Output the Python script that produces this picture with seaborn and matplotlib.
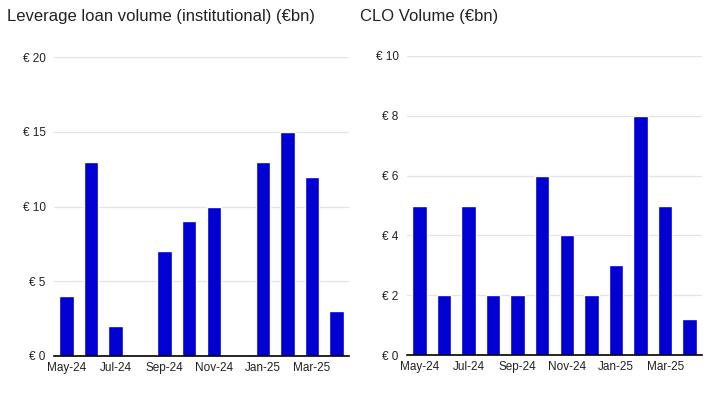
import matplotlib
matplotlib.use("Agg")
import matplotlib.pyplot as plt
import seaborn as sns
import pandas as pd

months = ["May-24", "Jun-24", "Jul-24", "Aug-24", "Sep-24", "Oct-24",
          "Nov-24", "Dec-24", "Jan-25", "Feb-25", "Mar-25", "Apr-25"]
loan_volume = [4, 13, 2, 0, 7, 9, 10, 0, 13, 15, 12, 3]
clo_volume = [5, 2, 5, 2, 2, 6, 4, 2, 3, 8, 5, 1.2]

left_title = "Leverage loan volume (institutional) (€bn)"
right_title = "CLO Volume (€bn)"
left_ticks = [0, 5, 10, 15, 20]
right_ticks = [0, 2, 4, 6, 8, 10]

sns.set_theme(style="white")
plt.rcParams['font.family'] = ['Liberation Sans', 'DejaVu Sans']

bar_color = "#0000d2"
fig = plt.figure(figsize=(7.21, 3.95), dpi=100)
ax1 = fig.add_axes([54/721, 1-356/395, 295/721, 299/395])
ax2 = fig.add_axes([407/721, 1-355/395, 295/721, 299/395])

def draw(ax, values, ticks, title, title_x):
    df = pd.DataFrame({"month": months, "value": values})
    sns.barplot(data=df, x="month", y="value", ax=ax, color=bar_color,
                width=0.59, saturation=1, order=months)
    ax.set_ylim(0, ticks[-1])
    ax.set_xlim(-0.5, len(months) - 0.5)
    ax.set_yticks(ticks)
    ax.set_yticklabels([f"€ {t}" for t in ticks], fontsize=8.5, color="#222222")
    ax.set_xticks(range(0, len(months), 2))
    ax.set_xticklabels(months[::2], fontsize=8.5, color="#222222")
    ax.tick_params(axis="both", length=0, pad=6)
    ax.tick_params(axis="x", pad=4)
    ax.grid(axis="y", color="#e3e3e3", linewidth=0.9)
    ax.set_axisbelow(True)
    for s in ["top", "right", "left"]:
        ax.spines[s].set_visible(False)
    ax.spines["bottom"].set_color("black")
    ax.spines["bottom"].set_linewidth(1.2)
    ax.set_xlabel("")
    ax.set_ylabel("")
    fig.text(title_x, 1 - 17/395, title, fontsize=12, color="#222222", va="center", ha="left")

draw(ax1, loan_volume, left_ticks, left_title, 7/721)
draw(ax2, clo_volume, right_ticks, right_title, 360/721)

fig.savefig("out.png", dpi=100)
